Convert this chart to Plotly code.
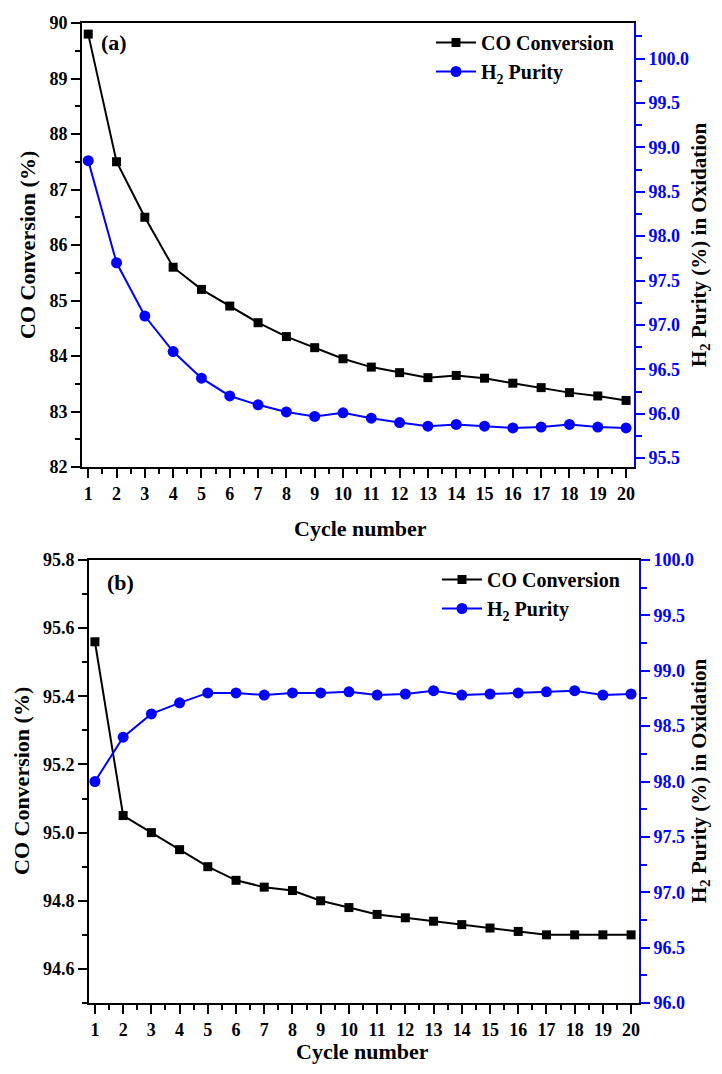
import plotly.graph_objects as go

cycles = [1, 2, 3, 4, 5, 6, 7, 8, 9, 10, 11, 12, 13, 14, 15, 16, 17, 18, 19, 20]

# Panel (a)
co_conv_a = [89.80, 87.50, 86.50, 85.60, 85.20, 84.90, 84.60, 84.35, 84.15, 83.95,
             83.80, 83.70, 83.61, 83.65, 83.60, 83.51, 83.43, 83.34, 83.28, 83.20]
h2_purity_a = [98.85, 97.70, 97.10, 96.70, 96.40, 96.20, 96.10, 96.02, 95.97, 96.01,
               95.95, 95.90, 95.86, 95.88, 95.86, 95.84, 95.85, 95.88, 95.85, 95.84]

# Panel (b)
co_conv_b = [95.56, 95.05, 95.00, 94.95, 94.90, 94.86, 94.84, 94.83, 94.80, 94.78,
             94.76, 94.75, 94.74, 94.73, 94.72, 94.71, 94.70, 94.70, 94.70, 94.70]
h2_purity_b = [98.00, 98.40, 98.61, 98.71, 98.80, 98.80, 98.78, 98.80, 98.80, 98.81,
               98.78, 98.79, 98.82, 98.78, 98.79, 98.80, 98.81, 98.82, 98.78, 98.79]

# Tick labels
x_ticks = cycles
x_ticklabels = [str(c) for c in cycles]
ya_left_ticks = [82, 83, 84, 85, 86, 87, 88, 89, 90]
ya_right_ticks = [95.5, 96.0, 96.5, 97.0, 97.5, 98.0, 98.5, 99.0, 99.5, 100.0]
yb_left_ticks = [94.6, 94.8, 95.0, 95.2, 95.4, 95.6, 95.8]
yb_right_ticks = [96.0, 96.5, 97.0, 97.5, 98.0, 98.5, 99.0, 99.5, 100.0]

series_names = ["<b>CO Conversion</b>", "<b>H<sub>2</sub> Purity</b>"]
x_title = "<b>Cycle number</b>"
y_left_title = "<b>CO Conversion (%)</b>"
y_right_title = "<b>H<sub>2</sub> Purity (%) in Oxidation</b>"
panel_labels = ["<b>(a)</b>", "<b>(b)</b>"]

# page is 722x1074; the html body has an 8px margin, so the figure is 706x1058
PAGE_W, PAGE_H = 722, 1074
BODY = 8
W, H = PAGE_W - 2 * BODY, PAGE_H - 2 * BODY
FONT = "Liberation Serif"


def px(x):
    return (x - BODY) / W


def py(y):
    return 1 - (y - BODY) / H


def bold(vals, fmt):
    return ["<b>" + format(v, fmt) + "</b>" for v in vals]


fig = go.Figure()

line_co = dict(color="black", width=2)
mk_co = dict(symbol="square", size=9, color="black")
line_h2 = dict(color="blue", width=2)
mk_h2 = dict(symbol="circle", size=11, color="blue")

fig.add_trace(go.Scatter(x=cycles, y=co_conv_a, xaxis="x", yaxis="y", mode="lines+markers",
                         name=series_names[0], line=line_co, marker=mk_co, legend="legend"))
fig.add_trace(go.Scatter(x=cycles, y=h2_purity_a, xaxis="x", yaxis="y2", mode="lines+markers",
                         name=series_names[1], line=line_h2, marker=mk_h2, legend="legend"))
fig.add_trace(go.Scatter(x=cycles, y=co_conv_b, xaxis="x2", yaxis="y3", mode="lines+markers",
                         name=series_names[0], line=line_co, marker=mk_co, legend="legend2"))
fig.add_trace(go.Scatter(x=cycles, y=h2_purity_b, xaxis="x2", yaxis="y4", mode="lines+markers",
                         name=series_names[1], line=line_h2, marker=mk_h2, legend="legend2"))

tickfont = dict(family=FONT, size=18, color="black")
tickfont_b = dict(family=FONT, size=18, color="blue")


def xaxis_cfg(domain, anchor, rng):
    return dict(domain=domain, anchor=anchor, range=rng, tickmode="array", tickvals=x_ticks,
                ticktext=["<b>" + t + "</b>" for t in x_ticklabels],
                ticks="outside", ticklen=9, tickwidth=2, tickcolor="black",
                showline=True, linecolor="black", linewidth=2, mirror=True,
                showgrid=False, zeroline=False, tickfont=tickfont, automargin=False,
                minor=dict(dtick=0.5, tick0=0.5, ticks="outside", ticklen=5, tickwidth=2,
                           tickcolor="black", showgrid=False))


def yleft_cfg(domain, anchor, rng, tv, fmt, minor):
    return dict(domain=domain, anchor=anchor, range=rng, tickmode="array", tickvals=tv,
                ticktext=bold(tv, fmt),
                ticks="outside", ticklen=9, tickwidth=2, tickcolor="black",
                showline=True, linecolor="black", linewidth=2, mirror=False,
                showgrid=False, zeroline=False, tickfont=tickfont, automargin=False,
                minor=dict(dtick=minor, tick0=0, ticks="outside", ticklen=5, tickwidth=2,
                           tickcolor="black", showgrid=False))


def yright_cfg(overlay, anchor, rng, tv):
    return dict(overlaying=overlay, anchor=anchor, side="right", range=rng,
                tickmode="array", tickvals=tv, ticktext=bold(tv, ".1f"),
                ticks="outside", ticklen=9, tickwidth=2, tickcolor="blue",
                showline=True, linecolor="blue", linewidth=2, automargin=False,
                showgrid=False, zeroline=False, tickfont=tickfont_b,
                minor=dict(dtick=0.25, tick0=0, ticks="outside", ticklen=6, tickwidth=2,
                           tickcolor="blue", showgrid=False))


legend_font = dict(family=FONT, size=20, color="black")

fig.update_layout(
    width=W, height=H, autosize=False,
    margin=dict(l=0, r=0, t=0, b=0, pad=0, autoexpand=False),
    paper_bgcolor="white", plot_bgcolor="white",
    font=dict(family=FONT, color="black"),
    xaxis=xaxis_cfg([px(82), px(634)], "y", [0.78, 20.28]),
    yaxis=yleft_cfg([py(467), py(23)], "x", [82, 90], ya_left_ticks, "d", 0.5),
    yaxis2=yright_cfg("y", "x", [95.4, 100.4], ya_right_ticks),
    xaxis2=xaxis_cfg([px(89), px(639)], "y3", [0.79, 20.28]),
    yaxis3=yleft_cfg([py(1003), py(560)], "x2", [94.5, 95.8], yb_left_ticks, ".1f", 0.1),
    yaxis4=yright_cfg("y3", "x2", [96, 100], yb_right_ticks),
    legend=dict(x=px(431), y=py(23), xanchor="left", yanchor="top", font=legend_font,
                bgcolor="rgba(0,0,0,0)", borderwidth=0, tracegroupgap=0, itemwidth=40),
    legend2=dict(x=px(437), y=py(560), xanchor="left", yanchor="top", font=legend_font,
                 bgcolor="rgba(0,0,0,0)", borderwidth=0, tracegroupgap=0, itemwidth=40),
    showlegend=True,
)

title_font = dict(family=FONT, size=22, color="black")
rtitle_font = dict(family=FONT, size=21, color="black")
ann = []
ann.append(dict(text=x_title, x=px(360), y=py(528), xref="paper", yref="paper",
                showarrow=False, font=title_font, xanchor="center", yanchor="middle"))
ann.append(dict(text=x_title, x=px(362), y=py(1051), xref="paper", yref="paper",
                showarrow=False, font=title_font, xanchor="center", yanchor="middle"))
ann.append(dict(text=y_left_title, x=px(27), y=py(245), xref="paper", yref="paper",
                showarrow=False, font=title_font, textangle=-90, xanchor="center", yanchor="middle"))
ann.append(dict(text=y_left_title, x=px(21), y=py(781), xref="paper", yref="paper",
                showarrow=False, font=title_font, textangle=-90, xanchor="center", yanchor="middle"))
ann.append(dict(text=y_right_title, x=px(700), y=py(245), xref="paper", yref="paper",
                showarrow=False, font=rtitle_font, textangle=-90, xanchor="center", yanchor="middle"))
ann.append(dict(text=y_right_title, x=px(700), y=py(781), xref="paper", yref="paper",
                showarrow=False, font=rtitle_font, textangle=-90, xanchor="center", yanchor="middle"))
ann.append(dict(text=panel_labels[0], x=px(99), y=py(43), xref="paper", yref="paper",
                showarrow=False, font=title_font, xanchor="left", yanchor="middle"))
ann.append(dict(text=panel_labels[1], x=px(105), y=py(582), xref="paper", yref="paper",
                showarrow=False, font=title_font, xanchor="left", yanchor="middle"))
fig.update_layout(annotations=ann)

fig.write_html("out.html")
